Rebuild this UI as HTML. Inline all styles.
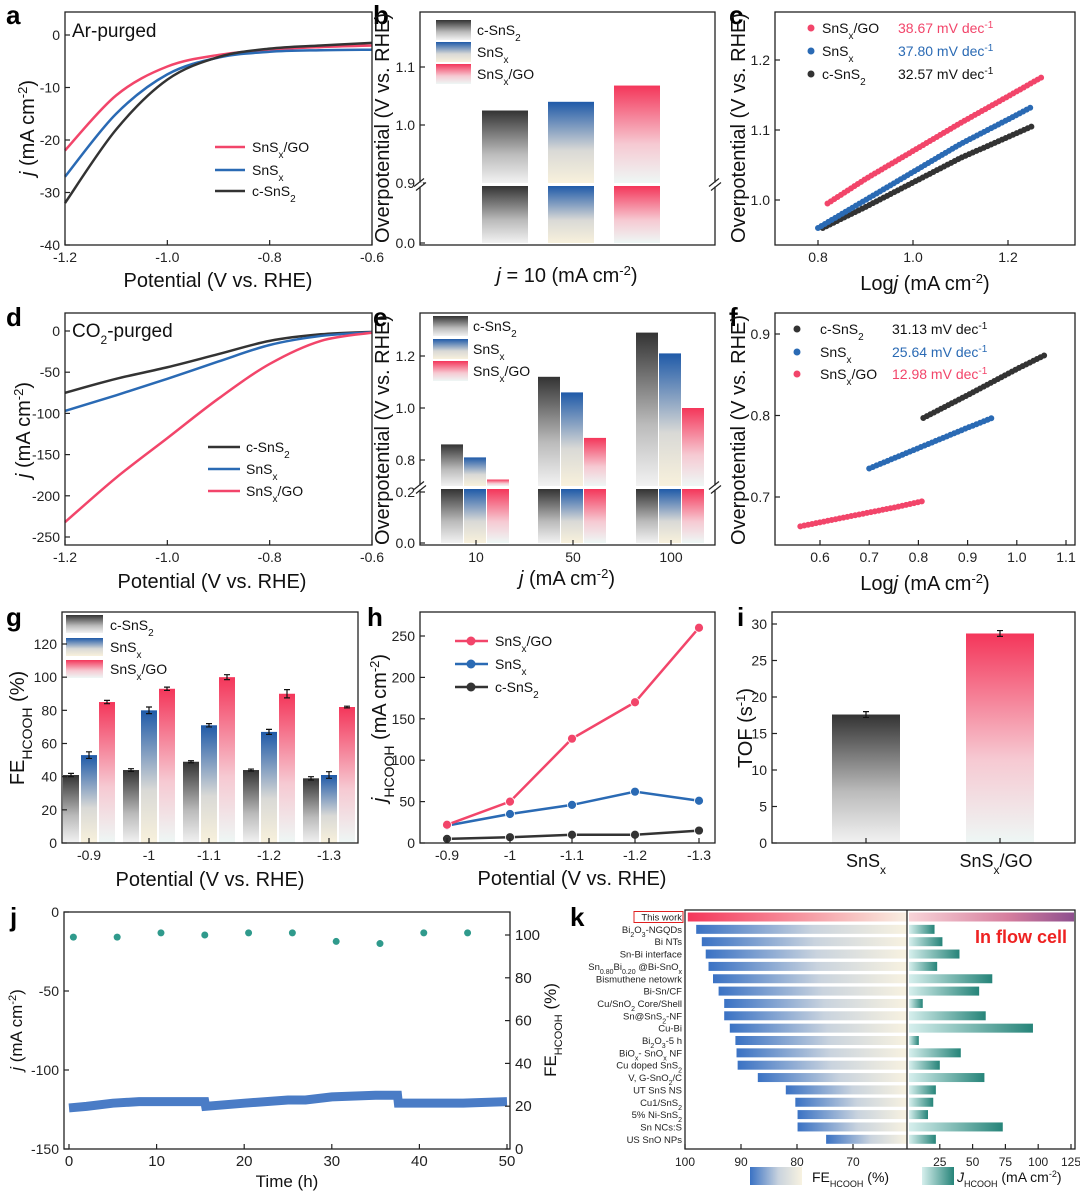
<!DOCTYPE html>
<html><head><meta charset="utf-8"><style>
html,body{margin:0;padding:0;background:#fff;}
svg{display:block;font-family:"Liberation Sans",sans-serif;}
</style></head><body>
<svg id="fig" width="1080" height="1192" viewBox="0 0 1080 1192" xmlns="http://www.w3.org/2000/svg">
<defs>
<linearGradient id="gDark" x1="0" y1="0" x2="0" y2="1"><stop offset="0" stop-color="#333"/><stop offset="0.6" stop-color="#bbb"/><stop offset="1" stop-color="#f2f2f2"/></linearGradient>
<linearGradient id="gBlue" x1="0" y1="0" x2="0" y2="1"><stop offset="0" stop-color="#1f5aa8"/><stop offset="0.6" stop-color="#d9d9d6"/><stop offset="1" stop-color="#f8f1dc"/></linearGradient>
<linearGradient id="gRed" x1="0" y1="0" x2="0" y2="1"><stop offset="0" stop-color="#f4365a"/><stop offset="0.6" stop-color="#f6c9d2"/><stop offset="1" stop-color="#eef7f5"/></linearGradient>
<linearGradient id="gKL" x1="0" y1="0" x2="1" y2="0"><stop offset="0" stop-color="#3a72c4"/><stop offset="0.55" stop-color="#c9d3de"/><stop offset="1" stop-color="#f8f2e0"/></linearGradient>
<linearGradient id="gKR" x1="0" y1="0" x2="1" y2="0"><stop offset="0" stop-color="#d6efed"/><stop offset="1" stop-color="#268479"/></linearGradient>
<linearGradient id="gTW" x1="0" y1="0" x2="1" y2="0"><stop offset="0" stop-color="#f4365a"/><stop offset="1" stop-color="#f8efe2"/></linearGradient>
<linearGradient id="gTW2" x1="0" y1="0" x2="1" y2="0"><stop offset="0" stop-color="#f8d4d8"/><stop offset="0.6" stop-color="#d67e9e"/><stop offset="1" stop-color="#8e4f8e"/></linearGradient>
</defs>
<g id="marks"></g>
<g font-size="26" font-weight="bold" fill="#000">
<text x="6" y="24">a</text>
<text x="373" y="24">b</text>
<text x="729" y="24">c</text>
<text x="6" y="326">d</text>
<text x="373" y="326">e</text>
<text x="729" y="326">f</text>
<text x="6" y="626">g</text>
<text x="367" y="626">h</text>
<text x="737" y="626">i</text>
<text x="10" y="926">j</text>
<text x="570" y="926">k</text>
</g>
<g font-size="20" fill="#111">
<text x="218" y="287" text-anchor="middle">Potential (V vs. RHE)</text>
<text transform="translate(34,128) rotate(-90)" text-anchor="middle"><tspan font-style="italic">j</tspan> (mA cm<tspan baseline-shift="super" font-size="13">-2</tspan>)</text>
<text x="72" y="37" font-size="19">Ar-purged</text>
<text transform="translate(389,128) rotate(-90)" text-anchor="middle">Overpotential (V vs. RHE)</text>
<text x="567" y="282" text-anchor="middle"><tspan font-style="italic">j</tspan> = 10 (mA cm<tspan baseline-shift="super" font-size="13">-2</tspan>)</text>
<text transform="translate(745,128) rotate(-90)" text-anchor="middle">Overpotential (V vs. RHE)</text>
<text x="925" y="290" text-anchor="middle">Log<tspan font-style="italic">j</tspan> (mA cm<tspan baseline-shift="super" font-size="13">-2</tspan>)</text>
<text x="212" y="588" text-anchor="middle">Potential (V vs. RHE)</text>
<text transform="translate(30,430) rotate(-90)" text-anchor="middle"><tspan font-style="italic">j</tspan> (mA cm<tspan baseline-shift="super" font-size="13">-2</tspan>)</text>
<text x="72" y="337" font-size="19">CO<tspan baseline-shift="sub" font-size="12">2</tspan>-purged</text>
<text transform="translate(389,430) rotate(-90)" text-anchor="middle">Overpotential (V vs. RHE)</text>
<text x="567" y="585" text-anchor="middle"><tspan font-style="italic">j</tspan> (mA cm<tspan baseline-shift="super" font-size="13">-2</tspan>)</text>
<text transform="translate(745,430) rotate(-90)" text-anchor="middle">Overpotential (V vs. RHE)</text>
<text x="925" y="590" text-anchor="middle">Log<tspan font-style="italic">j</tspan> (mA cm<tspan baseline-shift="super" font-size="13">-2</tspan>)</text>
<text transform="translate(24,728) rotate(-90)" text-anchor="middle">FE<tspan baseline-shift="sub" font-size="14">HCOOH</tspan> (%)</text>
<text x="210" y="886" text-anchor="middle">Potential  (V vs. RHE)</text>
<text transform="translate(386,728) rotate(-90)" text-anchor="middle"><tspan font-style="italic">j</tspan><tspan baseline-shift="sub" font-size="14">HCOOH</tspan> (mA cm<tspan baseline-shift="super" font-size="13">-2</tspan>)</text>
<text x="572" y="885" text-anchor="middle">Potential (V vs. RHE)</text>
<text transform="translate(752,728) rotate(-90)" text-anchor="middle">TOF (s<tspan baseline-shift="super" font-size="13">-1</tspan>)</text>
<text x="866" y="867" text-anchor="middle" font-size="18">SnS<tspan baseline-shift="sub" font-size="12">x</tspan></text>
<text x="996" y="867" text-anchor="middle" font-size="18">SnS<tspan baseline-shift="sub" font-size="12">x</tspan>/GO</text>
<text transform="translate(22,1030) rotate(-90)" text-anchor="middle" font-size="17"><tspan font-style="italic">j</tspan> (mA cm<tspan baseline-shift="super" font-size="11">-2</tspan>)</text>
<text transform="translate(556,1030) rotate(-90)" text-anchor="middle" font-size="17">FE<tspan baseline-shift="sub" font-size="11">HCOOH</tspan> (%)</text>
<text x="287" y="1187" text-anchor="middle" font-size="17">Time (h)</text>
</g>
<g font-size="14" fill="#111">
<g>
<line x1="215" y1="147" x2="245" y2="147" stroke="#f2456a" stroke-width="2.5"/><text x="252" y="152">SnS<tspan baseline-shift="sub" font-size="10">x</tspan>/GO</text>
<line x1="215" y1="170" x2="245" y2="170" stroke="#2a6ab4" stroke-width="2.5"/><text x="252" y="175">SnS<tspan baseline-shift="sub" font-size="10">x</tspan></text>
<line x1="215" y1="191" x2="245" y2="191" stroke="#333" stroke-width="2.5"/><text x="252" y="196">c-SnS<tspan baseline-shift="sub" font-size="10">2</tspan></text>
</g>
<g>
<rect x="436" y="20" width="35" height="20" fill="url(#gDark)"/><text x="477" y="35">c-SnS<tspan baseline-shift="sub" font-size="10">2</tspan></text>
<rect x="436" y="42" width="35" height="20" fill="url(#gBlue)"/><text x="477" y="57">SnS<tspan baseline-shift="sub" font-size="10">x</tspan></text>
<rect x="436" y="64" width="35" height="20" fill="url(#gRed)"/><text x="477" y="79">SnS<tspan baseline-shift="sub" font-size="10">x</tspan>/GO</text>
</g>
<g>
<circle cx="811" cy="28" r="3.5" fill="#f2456a"/><text x="822" y="33">SnS<tspan baseline-shift="sub" font-size="10">x</tspan>/GO</text><text x="898" y="33" fill="#f2456a">38.67 mV dec<tspan baseline-shift="super" font-size="10">-1</tspan></text>
<circle cx="811" cy="51" r="3.5" fill="#2a6ab4"/><text x="822" y="56">SnS<tspan baseline-shift="sub" font-size="10">x</tspan></text><text x="898" y="56" fill="#2a6ab4">37.80 mV dec<tspan baseline-shift="super" font-size="10">-1</tspan></text>
<circle cx="811" cy="74" r="3.5" fill="#333"/><text x="822" y="79">c-SnS<tspan baseline-shift="sub" font-size="10">2</tspan></text><text x="898" y="79">32.57 mV dec<tspan baseline-shift="super" font-size="10">-1</tspan></text>
</g>
<g>
<line x1="208" y1="447" x2="240" y2="447" stroke="#333" stroke-width="2.5"/><text x="246" y="452">c-SnS<tspan baseline-shift="sub" font-size="10">2</tspan></text>
<line x1="208" y1="469" x2="240" y2="469" stroke="#2a6ab4" stroke-width="2.5"/><text x="246" y="474">SnS<tspan baseline-shift="sub" font-size="10">x</tspan></text>
<line x1="208" y1="491" x2="240" y2="491" stroke="#f2456a" stroke-width="2.5"/><text x="246" y="496">SnS<tspan baseline-shift="sub" font-size="10">x</tspan>/GO</text>
</g>
<g>
<rect x="433" y="316" width="35" height="20" fill="url(#gDark)"/><text x="473" y="331">c-SnS<tspan baseline-shift="sub" font-size="10">2</tspan></text>
<rect x="433" y="339" width="35" height="20" fill="url(#gBlue)"/><text x="473" y="354">SnS<tspan baseline-shift="sub" font-size="10">x</tspan></text>
<rect x="433" y="361" width="35" height="20" fill="url(#gRed)"/><text x="473" y="376">SnS<tspan baseline-shift="sub" font-size="10">x</tspan>/GO</text>
</g>
<g>
<circle cx="797" cy="329" r="3.5" fill="#333"/><text x="820" y="334">c-SnS<tspan baseline-shift="sub" font-size="10">2</tspan></text><text x="892" y="334">31.13 mV dec<tspan baseline-shift="super" font-size="10">-1</tspan></text>
<circle cx="797" cy="352" r="3.5" fill="#2a6ab4"/><text x="820" y="357">SnS<tspan baseline-shift="sub" font-size="10">x</tspan></text><text x="892" y="357" fill="#2a6ab4">25.64 mV dec<tspan baseline-shift="super" font-size="10">-1</tspan></text>
<circle cx="797" cy="374" r="3.5" fill="#f2456a"/><text x="820" y="379">SnS<tspan baseline-shift="sub" font-size="10">x</tspan>/GO</text><text x="892" y="379" fill="#f2456a">12.98 mV dec<tspan baseline-shift="super" font-size="10">-1</tspan></text>
</g>
<g>
<rect x="66" y="615" width="37" height="18" fill="url(#gDark)"/><text x="110" y="630">c-SnS<tspan baseline-shift="sub" font-size="10">2</tspan></text>
<rect x="66" y="638" width="37" height="18" fill="url(#gBlue)"/><text x="110" y="652">SnS<tspan baseline-shift="sub" font-size="10">x</tspan></text>
<rect x="66" y="660" width="37" height="18" fill="url(#gRed)"/><text x="110" y="674">SnS<tspan baseline-shift="sub" font-size="10">x</tspan>/GO</text>
</g>
<g>
<line x1="455" y1="641" x2="488" y2="641" stroke="#f2456a" stroke-width="2.5"/><circle cx="471" cy="641" r="4.5" fill="#f2456a"/><text x="495" y="646">SnS<tspan baseline-shift="sub" font-size="10">x</tspan>/GO</text>
<line x1="455" y1="664" x2="488" y2="664" stroke="#2a6ab4" stroke-width="2.5"/><circle cx="471" cy="664" r="4.5" fill="#2a6ab4"/><text x="495" y="669">SnS<tspan baseline-shift="sub" font-size="10">x</tspan></text>
<line x1="455" y1="687" x2="488" y2="687" stroke="#333" stroke-width="2.5"/><circle cx="471" cy="687" r="4.5" fill="#333"/><text x="495" y="692">c-SnS<tspan baseline-shift="sub" font-size="10">2</tspan></text>
</g>
<g>
<rect x="750" y="1167" width="52" height="18" fill="url(#gKL)"/><text x="812" y="1182">FE<tspan baseline-shift="sub" font-size="9">HCOOH</tspan> (%)</text>
<rect x="922" y="1167" width="32" height="18" fill="url(#gKR)"/><text x="957" y="1182"><tspan font-style="italic">J</tspan><tspan baseline-shift="sub" font-size="9">HCOOH</tspan> (mA cm<tspan baseline-shift="super" font-size="9">-2</tspan>)</text>
</g>
<text x="975" y="943" font-size="18" font-weight="bold" fill="#ee2222">In flow cell</text>
</g>
<g id="axes"></g>
</svg>
<script>
// ---------- data ----------
const aPot=[-1.2,-1.1,-1.0,-0.9,-0.8,-0.7,-0.6];
const aGO=[-22,-11.5,-6,-3.8,-2.8,-2.3,-2.0];
const aSnSx=[-27,-15,-7.5,-4.3,-3.2,-2.9,-2.8];
const aC=[-32,-18,-8.5,-4.2,-2.6,-2.0,-1.5];
const bVals=[1.025,1.04,1.068];
const cGOx=[0.82,0.9,1.0,1.1,1.2,1.27], cGOy=[0.995,1.03,1.07,1.11,1.148,1.175];
const cSx=[0.80,0.9,1.0,1.1,1.2,1.25], cSy=[0.96,1.0,1.04,1.08,1.115,1.133];
const cCx=[0.81,0.9,1.0,1.1,1.2,1.25], cCy=[0.96,0.99,1.025,1.06,1.09,1.105];
const dPot=[-1.2,-1.1,-1.0,-0.9,-0.8,-0.7,-0.6];
const dC=[-75,-58,-44,-28,-12,-4,-1];
const dSnSx=[-97,-78,-58,-37,-17,-6,-1.5];
const dGO=[-232,-178,-130,-82,-40,-12,-2];
const eCats=['10','50','100'];
const eC=[0.86,1.12,1.29], eS=[0.81,1.06,1.21], eG=[0.725,0.885,1.0];
const fCx=[0.81,0.9,1.0,1.06], fCy=[0.797,0.825,0.857,0.875];
const fSx=[0.70,0.8,0.9,0.95], fSy=[0.735,0.760,0.785,0.797];
const fGx=[0.56,0.65,0.75,0.81], fGy=[0.664,0.675,0.687,0.695];
const gCats=['-0.9','-1','-1.1','-1.2','-1.3'];
const gC=[41,44,49,44,39], gS=[53,80,71,67,41], gG=[85,93,100,90,82];
const gCe=[1,0.8,0.6,0.6,1], gSe=[2,2,1,1.5,2], gGe=[1,1,1.5,2.5,0.5];
const hCats=['-0.9','-1','-1.1','-1.2','-1.3'];
const hG=[22,50,126,170,260], hS=[21,35,46,62,51], hC=[5,7,10,10,15];
const iVals=[17.6,28.7], iErr=[0.4,0.4];
const jT=[0,2,5,8,12,15.5,15.6,20,25,27,30,35,37.5,37.6,40,45,50];
const jJ=[-124,-123,-121,-120,-120,-120,-123,-121,-119,-119,-117,-116,-116,-121,-121,-121,-120];
const jFEt=[0.5,5.5,10.5,15.5,20.5,25.5,30.5,35.5,40.5,45.5];
const jFE=[99,99,101,100,101,101,97,96,101,101];
const kNames=['This work','Bi<tspan baseline-shift="sub" font-size="7">2</tspan>O<tspan baseline-shift="sub" font-size="7">3</tspan>-NGQDs','Bi NTs','Sn-Bi interface','Sn<tspan baseline-shift="sub" font-size="7">0.80</tspan>Bi<tspan baseline-shift="sub" font-size="7">0.20</tspan> @Bi-SnO<tspan baseline-shift="sub" font-size="7">x</tspan>','Bismuthene netowrk','Bi-Sn/CF','Cu/SnO<tspan baseline-shift="sub" font-size="7">2</tspan> Core/Shell','Sn@SnS<tspan baseline-shift="sub" font-size="7">2</tspan>-NF','Cu-Bi','Bi<tspan baseline-shift="sub" font-size="7">2</tspan>O<tspan baseline-shift="sub" font-size="7">3</tspan>-5 h','BiO<tspan baseline-shift="sub" font-size="7">x</tspan>- SnO<tspan baseline-shift="sub" font-size="7">x</tspan> NF','Cu doped SnS<tspan baseline-shift="sub" font-size="7">2</tspan>','V, G-SnO<tspan baseline-shift="sub" font-size="7">2</tspan>/C','UT SnS NS','Cu1/SnS<tspan baseline-shift="sub" font-size="7">2</tspan>','5% Ni-SnS<tspan baseline-shift="sub" font-size="7">2</tspan>','Sn NCs:S','US SnO NPs'];
const kFE=[99.5,98,97,96.3,95.8,95,94,93,93,92,91,90.8,90.6,87,82,80.3,79.9,79.9,74.8];
const kJ=[130,21,27,40,23,65,55,12,60,96,9,41,25,59,22,20,16,73,22];

// ---------- helpers ----------
const NS='http://www.w3.org/2000/svg';
const M=document.getElementById('marks'), A=document.getElementById('axes');
function mk(tag,at,p){const e=document.createElementNS(NS,tag);for(const k in at)e.setAttribute(k,at[k]);(p||M).appendChild(e);return e;}
function lin(d0,d1,r0,r1){return v=>r0+(v-d0)*(r1-r0)/(d1-d0);}
function smooth(px,py){let d='M'+px[0]+','+py[0];for(let i=0;i<px.length-1;i++){const x0=i>0?px[i-1]:px[i],y0=i>0?py[i-1]:py[i],x3=i+2<px.length?px[i+2]:px[i+1],y3=i+2<py.length?py[i+2]:py[i+1];d+=' C'+(px[i]+(px[i+1]-x0)/6)+','+(py[i]+(py[i+1]-y0)/6)+' '+(px[i+1]-(x3-px[i])/6)+','+(py[i+1]-(y3-py[i])/6)+' '+px[i+1]+','+py[i+1];}return d;}
function frame(x0,y0,x1,y1,name){const r=mk('rect',{x:x0,y:y0,width:x1-x0,height:y1-y0,fill:'none',stroke:'#222','stroke-width':1.3},A);

}
function tickY(x,y,lab,side,fs){const l=mk('line',{x1:x,y1:y,x2:x+(side<0?5:-5),y2:y,stroke:'#222','stroke-width':1.2},A);


if(lab!==null){const t=mk('text',{x:side<0?x-5:x+5,y:y+5,'font-size':fs||14,'text-anchor':side<0?'end':'start',fill:'#222'},A);t.textContent=lab;

}}
function tickX(x,y,lab,fs){const l=mk('line',{x1:x,y1:y,x2:x,y2:y-5,stroke:'#222','stroke-width':1.2},A);


if(lab!==null){const t=mk('text',{x:x,y:y+17,'font-size':fs||14,'text-anchor':'middle',fill:'#222'},A);t.textContent=lab;

}}
function curve(xs,ys,sx,sy,col,name,w){const p=mk('path',{d:smooth(xs.map(sx),ys.map(sy)),fill:'none',stroke:col,'stroke-width':w||2.5});

}
function dots(xs,ys,sx,sy,col,name){const p=mk('polyline',{points:xs.map((v,i)=>sx(v)+','+sy(ys[i])).join(' '),fill:'none',stroke:col,'stroke-width':6,'stroke-linecap':'round','stroke-dasharray':'0 4'});

}
function bar(x,w,yt,yb,fill,name){const r=mk('rect',{x:x,y:Math.min(yt,yb),width:Math.max(0,w),height:Math.abs(yb-yt),fill:fill});

}
function err(x,y1,y2){const g=mk('path',{d:`M${x},${y1}V${y2}M${x-3},${y1}h6M${x-3},${y2}h6`,stroke:'#111','stroke-width':1.2,fill:'none'});

}
function brk(x,y){const w=mk('rect',{x:x-3,y:y-2,width:6,height:4,fill:'#fff'},A);


const b=mk('path',{d:`M${x-6},${y+2}l10,-8M${x-4},${y+6}l10,-8`,stroke:'#222','stroke-width':1.2,fill:'none'},A);

}
const RED='#f2456a',BLUE='#2a6ab4',DARK='#333';

// ---------- a ----------
{const sx=lin(-1.2,-0.6,65,372), sy=lin(0,-40,35,245);
curve(aPot,aGO,sx,sy,RED,'a-curve-snsx-go');curve(aPot,aSnSx,sx,sy,BLUE,'a-curve-snsx');curve(aPot,aC,sx,sy,DARK,'a-curve-c-sns2');
frame(65,12,372,245,'a-plot-frame');
[-1.2,-1.0,-0.8,-0.6].forEach(v=>tickX(sx(v),245,v.toFixed(1)));
[0,-10,-20,-30,-40].forEach(v=>tickY(65,sy(v),String(v),-1));}
// ---------- b ----------
{const su=lin(0.9,1.1,183,67), sl=lin(0,0.1,243,186);
const cx=[505,571,637], fills=['url(#gDark)','url(#gBlue)','url(#gRed)'], nm=['c-sns2','snsx','snsx-go'];
bVals.forEach((v,i)=>{bar(cx[i]-23,46,su(v),183,fills[i],'b-bar-'+nm[i]+'-upper');bar(cx[i]-23,46,186,243,fills[i],'b-bar-'+nm[i]+'-lower');});
frame(420,12,715,245,'b-plot-frame');
[0.9,1.0,1.1].forEach(v=>tickY(420,su(v),v.toFixed(1),-1));tickY(420,sl(0),'0.0',-1);
brk(420,184.5);brk(715,184.5);}
// ---------- c ----------
{const sx=lin(0.8,1.2,818,1008), sy=lin(1.0,1.2,200,60);
dots(cCx,cCy,sx,sy,DARK,'c-tafel-c-sns2');dots(cSx,cSy,sx,sy,BLUE,'c-tafel-snsx');dots(cGOx,cGOy,sx,sy,RED,'c-tafel-snsx-go');
frame(775,12,1075,245,'c-plot-frame');
[0.8,1.0,1.2].forEach(v=>tickX(sx(v),245,v.toFixed(1)));
[1.0,1.1,1.2].forEach(v=>tickY(775,sy(v),v.toFixed(1),-1));}
// ---------- d ----------
{const sx=lin(-1.2,-0.6,65,372), sy=lin(0,-250,331,537);
curve(dPot,dC,sx,sy,DARK,'d-curve-c-sns2');curve(dPot,dSnSx,sx,sy,BLUE,'d-curve-snsx');curve(dPot,dGO,sx,sy,RED,'d-curve-snsx-go');
frame(65,313,372,545,'d-plot-frame');
[-1.2,-1.0,-0.8,-0.6].forEach(v=>tickX(sx(v),545,v.toFixed(1)));
[0,-50,-100,-150,-200,-250].forEach(v=>tickY(65,sy(v),String(v),-1));}
// ---------- e ----------
{const su=lin(0.8,1.2,460,356), sl=lin(0,0.2,543,492);
const cx=[476,573,671], fills=['url(#gDark)','url(#gBlue)','url(#gRed)'];
[[eC,'c-sns2'],[eS,'snsx'],[eG,'snsx-go']].forEach(([arr,n],k)=>arr.forEach((v,i)=>{const x=cx[i]-35+k*23;bar(x,22,su(v),486,fills[k],'e-bar-'+n+'-'+eCats[i]+'-upper');bar(x,22,489,543,fills[k],'e-bar-'+n+'-'+eCats[i]+'-lower');}));
frame(420,313,715,545,'e-plot-frame');
[0.8,1.0,1.2].forEach(v=>tickY(420,su(v),v.toFixed(1),-1));
[0,0.2].forEach(v=>tickY(420,sl(v),v.toFixed(1),-1));
cx.forEach((x,i)=>tickX(x,545,eCats[i]));
brk(420,487.5);brk(715,487.5);}
// ---------- f ----------
{const sx=lin(0.6,1.1,820,1066), sy=lin(0.7,0.9,497,334);
dots(fCx,fCy,sx,sy,DARK,'f-tafel-c-sns2');dots(fSx,fSy,sx,sy,BLUE,'f-tafel-snsx');dots(fGx,fGy,sx,sy,RED,'f-tafel-snsx-go');
frame(775,313,1075,545,'f-plot-frame');
[0.6,0.7,0.8,0.9,1.0,1.1].forEach(v=>tickX(sx(v),545,v.toFixed(1)));
[0.7,0.8,0.9].forEach(v=>tickY(775,sy(v),v.toFixed(1),-1));}
// ---------- g ----------
{const sy=lin(0,120,843,644), cx=[89,149,209,269,329];
const fills=['url(#gDark)','url(#gBlue)','url(#gRed)'];
[[gC,gCe,'c-sns2'],[gS,gSe,'snsx'],[gG,gGe,'snsx-go']].forEach(([arr,e,n],k)=>arr.forEach((v,i)=>{const x=cx[i]-26+k*18;bar(x,16,sy(v),843,fills[k],'g-bar-'+n+'-'+gCats[i]);err(x+8,sy(v+e[i]),sy(v-e[i]));}));
frame(62,612,358,843,'g-plot-frame');
[0,20,40,60,80,100,120].forEach(v=>tickY(62,sy(v),String(v),-1));
cx.forEach((x,i)=>tickX(x,843,gCats[i]));}
// ---------- h ----------
{const sy=lin(0,250,843,636), cx=[447,510,572,635,699];
[[hC,DARK,'c-sns2'],[hS,BLUE,'snsx'],[hG,RED,'snsx-go']].forEach(([arr,col,n])=>{
const p=mk('polyline',{points:arr.map((v,i)=>cx[i]+','+sy(v)).join(' '),fill:'none',stroke:col,'stroke-width':2.5});


arr.forEach((v,i)=>{const c=mk('circle',{cx:cx[i],cy:sy(v),r:4.5,fill:col,stroke:'#fff','stroke-width':0.8});

});});
frame(420,612,715,843,'h-plot-frame');
[0,50,100,150,200,250].forEach(v=>tickY(420,sy(v),String(v),-1));
cx.forEach((x,i)=>tickX(x,843,hCats[i]));}
// ---------- i ----------
{const sy=lin(0,30,843,624), cx=[866,1000], fills=['url(#gDark)','url(#gRed)'];
iVals.forEach((v,i)=>{bar(cx[i]-34,68,sy(v),843,fills[i],'i-bar-'+i);err(cx[i],sy(v+iErr[i]),sy(v-iErr[i]));});
frame(772,612,1075,843,'i-plot-frame');
[0,5,10,15,20,25,30].forEach(v=>tickY(772,sy(v),String(v),-1));
cx.forEach(x=>tickX(x,843,null));}
// ---------- j ----------
{const sx=lin(0,50,69,507), sy=lin(0,-150,912,1149), sr=lin(0,100,1149,935);
const p=mk('polyline',{points:jT.map((t,i)=>sx(t)+','+sy(jJ[i])).join(' '),fill:'none',stroke:'#4a7cc6','stroke-width':9});


jFE.forEach((v,i)=>{const c=mk('circle',{cx:sx(jFEt[i]),cy:sr(v),r:3.5,fill:'#2f9a8c'});

});
frame(64,912,510,1149,'j-plot-frame');
[0,10,20,30,40,50].forEach(v=>tickX(sx(v),1149,String(v),15));
[0,-50,-100,-150].forEach(v=>tickY(64,sy(v),String(v),-1,14));
[0,20,40,60,80,100].forEach(v=>tickY(510,sr(v),String(v),1,15));}
// ---------- k ----------
{const sl=lin(100,70,685,853), sr=lin(0,125,907,1071), ry=i=>917+i*12.35;
kFE.forEach((v,i)=>{bar(sl(v),907-sl(v),ry(i)-4.5,ry(i)+4.5,i===0?'url(#gTW)':'url(#gKL)','k-fe-bar-'+i);});
kJ.forEach((v,i)=>{bar(909,Math.min(sr(v),1074)-909,ry(i)-4.5,ry(i)+4.5,i===0?'url(#gTW2)':'url(#gKR)','k-j-bar-'+i);});
kNames.forEach((n,i)=>{const t=mk('text',{x:682,y:ry(i)+3.5,'font-size':9.5,'text-anchor':'end',fill:'#222'},A);t.innerHTML=n;

});
const hb=mk('rect',{x:634,y:911.5,width:49,height:11,fill:'none',stroke:'#e02020','stroke-width':1},A);


const dv=mk('line',{x1:907,y1:910,x2:907,y2:1149,stroke:'#222','stroke-width':1.3},A);


frame(685,910,1075,1149,'k-plot-frame');
[100,90,80,70].forEach(v=>tickX(sl(v),1149,String(v),12));
[25,50,75,100,125].forEach(v=>tickX(sr(v),1149,String(v),12));}
</script>
</body></html>
